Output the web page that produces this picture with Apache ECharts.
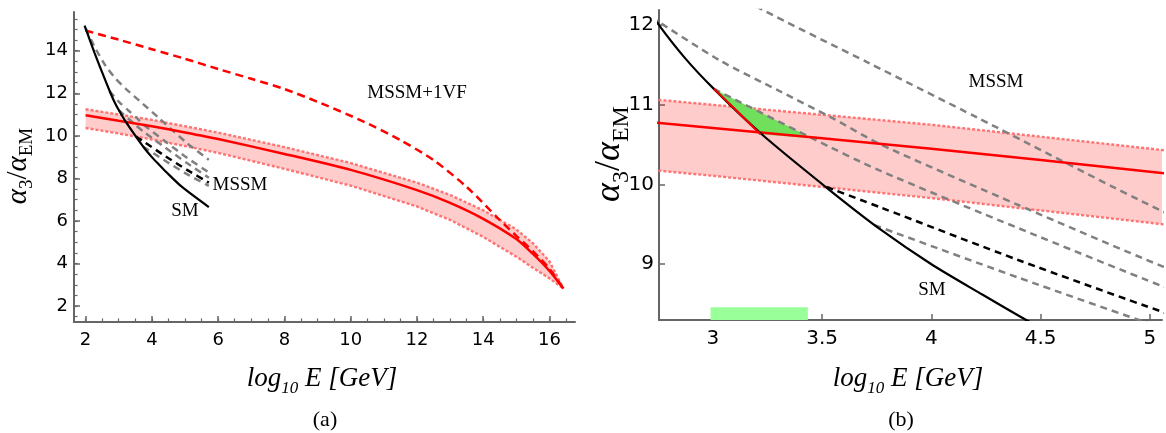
<!DOCTYPE html>
<html>
<head>
<meta charset="utf-8">
<script src="https://cdn.jsdelivr.net/npm/echarts@6/dist/echarts.min.js"></script>
<style>
html,body{margin:0;padding:0;background:#fff;}
#chart{width:1166px;height:433px;}
</style>
</head>
<body>
<div id="chart"></div>
<script>
// ---------- tick labels ----------
const leftXTicks = [2, 4, 6, 8, 10, 12, 14, 16];
const leftXMinor = [2, 2.5, 3, 3.5, 4, 4.5, 5, 5.5, 6, 6.5, 7, 7.5, 8, 8.5, 9, 9.5, 10, 10.5, 11, 11.5, 12, 12.5, 13, 13.5, 14, 14.5, 15, 15.5, 16, 16.5];
const leftYTicks = [2, 4, 6, 8, 10, 12, 14];
const leftYMinor = [1.5, 2, 2.5, 3, 3.5, 4, 4.5, 5, 5.5, 6, 6.5, 7, 7.5, 8, 8.5, 9, 9.5, 10, 10.5, 11, 11.5, 12, 12.5, 13, 13.5, 14, 14.5, 15, 15.5];
const rightXTicks = [3, 3.5, 4, 4.5, 5];
const rightYTicks = [9, 10, 11, 12];

// ---------- curves (shared by both panels; panel (b) is a zoom of panel (a)) ----------
const bandX      = [2, 3, 4, 5, 6, 8, 10, 12, 13, 14, 15, 15.5, 16, 16.42];
const bandCenter = [10.97, 10.71, 10.45, 10.16, 9.85, 9.15, 8.4, 7.45, 6.85, 6.1, 5.15, 4.45, 3.65, 2.82];
const bandTop    = [11.25, 11.0, 10.75, 10.45, 10.15, 9.47, 8.72, 7.8, 7.22, 6.5, 5.6, 4.95, 4.1, 2.82];
const bandBottom = [10.37, 10.11, 9.83, 9.52, 9.2, 8.45, 7.66, 6.68, 6.05, 5.25, 4.32, 3.8, 3.3, 2.82];
const curveVF   = [[2, 14.95], [3, 14.52], [4, 14.07], [5, 13.62], [6, 13.14], [7, 12.68], [8, 12.2], [9, 11.6], [10.29, 10.74], [11.5, 9.8], [12.5, 8.86], [13.5, 7.6], [14.51, 6.03], [15.0, 5.3], [15.52, 4.55], [16.0, 3.75], [16.42, 2.82]];
const curveSM   = [[1.97, 15.18], [2.27, 13.9], [2.5, 12.98], [2.754, 12.0], [2.875, 11.58], [3.005, 11.2], [3.22, 10.64], [3.53, 9.94], [3.77, 9.43], [4.0, 9.0], [4.22, 8.64], [4.44, 8.29], [4.9, 7.61], [5.72, 6.65]];
const curveMSSM = [[3.52, 9.97], [3.77, 9.71], [4.4, 9.05], [5.06, 8.4], [5.72, 7.8]];
const grayA = [[2.0, 15.05], [2.3, 14.1], [2.6, 13.3], [2.9, 12.7], [3.215, 12.21], [3.71, 11.53], [4.21, 10.84], [5.06, 9.66], [5.72, 8.87]];
const grayB = [[2.72, 12.1], [3.03, 11.56], [3.3, 11.18], [3.55, 10.83], [3.77, 10.5], [4.4, 9.74], [5.06, 8.97], [5.72, 8.28]];
const grayC = [[3.005, 11.2], [3.455, 10.58], [3.76, 10.18], [4.4, 9.45], [5.06, 8.72], [5.72, 8.03]];
const grayD = [[3.74, 9.49], [4.4, 8.83], [5.06, 8.2], [5.72, 7.65]];

// ---------- panel (b) extras ----------
const smRedEdge = [[3.005, 11.2], [3.1, 10.95], [3.218, 10.63]];
const greenTriangle = [[3.005, 11.2], [3.455, 10.58], [3.218, 10.63]];
const greenBarX = [2.99, 3.435];
const greenBarY = [8.3, 8.46];

// ---------- helpers ----------
const AX = '#666666';
const TICKFONT = 'DejaVu Sans';
const SERIF = 'Liberation Serif';
function pairs(xs, ys) { return xs.map((x, i) => [x, ys[i]]); }

function mainX(grid, min, max, ticks, fs) {
  return {
    type: 'value', gridIndex: grid, position: 'bottom', min: min, max: max,
    axisLine: { show: true, onZero: false, lineStyle: { color: AX, width: 2 } },
    axisTick: { show: true, inside: true, length: 6, customValues: ticks, lineStyle: { color: AX, width: 1.5 } },
    axisLabel: { customValues: ticks, color: '#000', fontFamily: TICKFONT, fontSize: fs, margin: 9 },
    splitLine: { show: false }
  };
}
function mainY(grid, min, max, ticks, fs, margin) {
  return {
    type: 'value', gridIndex: grid, position: 'left', min: min, max: max,
    axisLine: { show: true, onZero: false, lineStyle: { color: AX, width: 2 } },
    axisTick: { show: true, inside: true, length: 6, customValues: ticks, lineStyle: { color: AX, width: 1.5 } },
    axisLabel: { customValues: ticks, color: '#000', fontFamily: TICKFONT, fontSize: fs, margin: margin },
    splitLine: { show: false }
  };
}
function minorAxis(grid, pos, min, max, ticks) {
  return {
    type: 'value', gridIndex: grid, position: pos, min: min, max: max,
    axisLine: { show: false, onZero: false },
    axisTick: { show: true, inside: true, length: 3.5, customValues: ticks, lineStyle: { color: AX, width: 1.2 } },
    axisLabel: { show: false },
    splitLine: { show: false }
  };
}

function line(xi, yi, data, color, width, type, z, smooth) {
  return {
    type: 'line', xAxisIndex: xi, yAxisIndex: yi, data: data, symbol: 'none',
    smooth: smooth === undefined ? 0.25 : smooth,
    lineStyle: { color: color, width: width, type: type },
    z: z, silent: true, animation: false, clip: true
  };
}
function bandSeries(xi, yi) {
  return [
    {
      type: 'custom', xAxisIndex: xi, yAxisIndex: yi, data: [0], z: 1, silent: true, animation: false, clip: true,
      renderItem: function (params, api) {
        const pts = [];
        bandX.forEach((x, i) => pts.push(api.coord([x, bandTop[i]])));
        for (let i = bandX.length - 1; i >= 0; i--) pts.push(api.coord([bandX[i], bandBottom[i]]));
        return { type: 'polygon', shape: { points: pts }, style: { fill: 'rgba(255,0,0,0.2)' } };
      }
    },
    line(xi, yi, pairs(bandX, bandTop), '#ff7373', 2.4, [3, 2], 2, 0),
    line(xi, yi, pairs(bandX, bandBottom), '#ff7373', 2.4, [3, 2], 2, 0),
    line(xi, yi, pairs(bandX, bandCenter), '#ff0000', 2.5, 'solid', 5)
  ];
}
function curveSeries(xi, yi) {
  return [
    line(xi, yi, curveVF, '#ff0000', 2.5, [8, 5], 5),
    line(xi, yi, grayA, '#808080', 2.5, [7, 5], 4),
    line(xi, yi, grayB, '#808080', 2.5, [7, 5], 4),
    line(xi, yi, grayC, '#808080', 2.5, [7, 5], 4),
    line(xi, yi, grayD, '#808080', 2.5, [7, 5], 4),
    line(xi, yi, curveMSSM, '#000000', 2.5, [7, 5], 5),
    line(xi, yi, curveSM, '#000000', 2.2, 'solid', 6)
  ];
}

const series = [].concat(
  bandSeries(0, 0),
  curveSeries(0, 0),
  bandSeries(2, 2),
  [
    {
      type: 'custom', xAxisIndex: 2, yAxisIndex: 2, data: [0], z: 3, silent: true, animation: false,
      renderItem: function (params, api) {
        return { type: 'polygon', shape: { points: greenTriangle.map(p => api.coord(p)) }, style: { fill: '#70e05c' } };
      }
    },
    {
      type: 'custom', xAxisIndex: 2, yAxisIndex: 2, data: [0], z: 3, silent: true, animation: false,
      renderItem: function (params, api) {
        const a = api.coord([greenBarX[0], greenBarY[1]]);
        const b = api.coord([greenBarX[1], greenBarY[0]]);
        return { type: 'rect', shape: { x: a[0], y: a[1], width: b[0] - a[0], height: b[1] - a[1] }, style: { fill: '#99ff99' } };
      }
    }
  ],
  curveSeries(2, 2),
  [line(2, 2, smRedEdge, '#ff0000', 2, 'solid', 7)]
);

function label(txt, x, y, fs) {
  return { type: 'text', x: x, y: y, z: 50, silent: true,
    style: { text: txt, fill: '#000', font: fs + 'px "' + SERIF + '"', align: 'center', verticalAlign: 'middle', textAlign: 'center', textVerticalAlign: 'middle' } };
}
function yTitle(x, y, fs) {
  const sub = Math.round(fs * 0.66);
  return { type: 'text', x: x, y: y, rotation: Math.PI / 2, z: 50, silent: true,
    style: {
      text: '{a|α}{s|3}{b|/}{a|α}{s|EM}',
      align: 'center', verticalAlign: 'middle', textAlign: 'center', textVerticalAlign: 'middle',
      rich: {
        a: { fontFamily: SERIF, fontStyle: 'italic', fontSize: fs, lineHeight: fs * 1.3, fill: '#000', color: '#000' },
        b: { fontFamily: SERIF, fontSize: fs, lineHeight: fs * 1.3, fill: '#000', color: '#000' },
        s: { fontFamily: SERIF, fontSize: sub, lineHeight: sub * 1.0, verticalAlign: 'bottom', fill: '#000', color: '#000' }
      }
    } };
}
function xTitle(x, y, fs) {
  const sub = Math.round(fs * 0.64);
  return { type: 'text', x: x, y: y, z: 50, silent: true,
    style: {
      text: '{a|log}{s|10}{a| E [GeV]}',
      align: 'center', verticalAlign: 'middle', textAlign: 'center', textVerticalAlign: 'middle',
      rich: {
        a: { fontFamily: SERIF, fontStyle: 'italic', fontSize: fs, lineHeight: fs * 1.3, fill: '#000', color: '#000' },
        s: { fontFamily: SERIF, fontStyle: 'italic', fontSize: sub, lineHeight: sub * 1.0, verticalAlign: 'bottom', fill: '#000', color: '#000' }
      }
    } };
}

const option = {
  animation: false,
  backgroundColor: '#ffffff',
  grid: [
    { left: 74, top: 12, width: 501, height: 310 },
    { left: 659, top: 10, width: 503, height: 310 }
  ],
  xAxis: [
    mainX(0, 1.65, 16.77, leftXTicks, 18),
    minorAxis(0, 'bottom', 1.65, 16.77, leftXMinor),
    mainX(1, 2.754, 5.055, rightXTicks, 20)
  ],
  yAxis: [
    mainY(0, 1.25, 15.82, leftYTicks, 18, 6),
    minorAxis(0, 'left', 1.25, 15.82, leftYMinor),
    mainY(1, 8.3, 12.19, rightYTicks, 20, 5)
  ],
  series: series,
  graphic: [
    label('MSSM+1VF', 417, 93, 19),
    label('MSSM', 240, 185, 19),
    label('SM', 185, 211, 19),
    label('MSSM', 996, 82, 19),
    label('SM', 932, 290, 19),
    label('(a)', 325, 420, 22),
    label('(b)', 901, 420, 22),
    xTitle(322, 379, 27),
    xTitle(908, 379, 27),
    yTitle(18, 166, 29),
    yTitle(610, 154, 36)
  ]
};

const chart = echarts.init(document.getElementById('chart'), null, { renderer: 'canvas' });
chart.setOption(option);
</script>
</body>
</html>
